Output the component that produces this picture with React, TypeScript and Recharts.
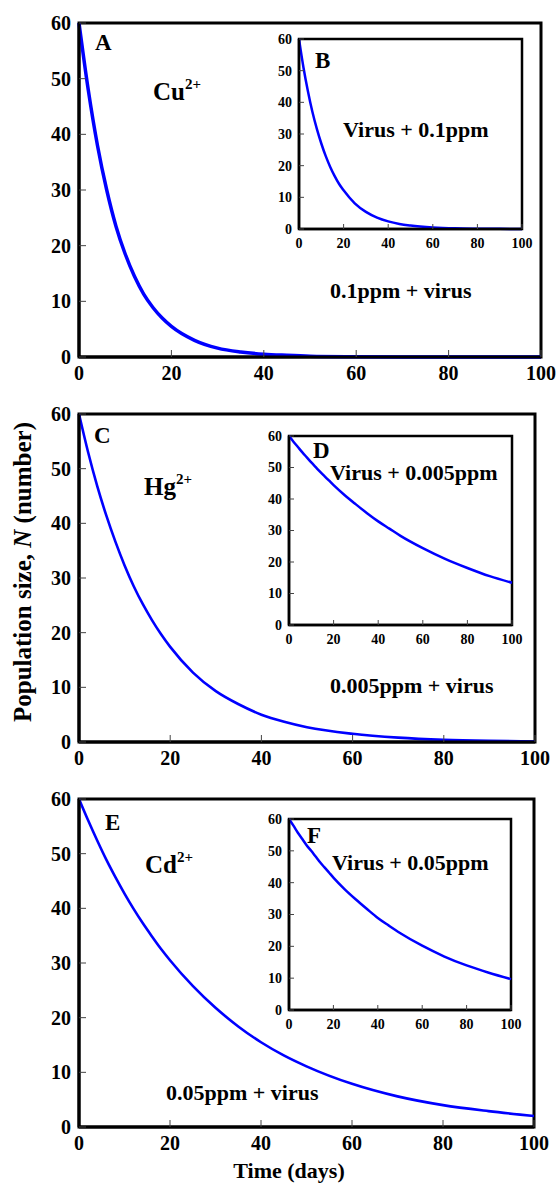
import React from 'react'
import { LineChart, Line, XAxis, YAxis, ReferenceArea } from 'recharts'

// sampling days shared by every curve
const TIME = [0, 2, 4, 6, 8, 10, 12, 14, 16, 18, 20, 25, 30, 35, 40, 45, 50, 60, 70, 80, 90, 100]

// population size N read at each day
const CU_PLUS_VIRUS = [60, 48, 38, 30, 23.5, 18.5, 14.5, 11.3, 8.9, 7, 5.5, 3, 1.6, 0.9, 0.5, 0.3, 0.15, 0.05, 0, 0, 0, 0]
const VIRUS_PLUS_CU = [60, 51, 43.5, 37, 31.6, 27, 23, 19.6, 16.7, 14.2, 12.2, 8.1, 5.4, 3.6, 2.4, 1.6, 1.1, 0.5, 0.2, 0.1, 0.05, 0]
const HG_PLUS_VIRUS = [60, 53, 46.8, 41.4, 36.6, 32.3, 28.5, 25.2, 22.3, 19.7, 17.4, 12.7, 9.3, 6.9, 5, 3.7, 2.7, 1.5, 0.8, 0.4, 0.2, 0.1]
const VIRUS_PLUS_HG = [60, 58.2, 56.5, 54.8, 53.2, 51.6, 50.1, 48.6, 47.2, 45.8, 44.4, 41.2, 38.3, 35.5, 32.9, 30.6, 28.3, 24.4, 21, 18.1, 15.5, 13.4]
const CD_PLUS_VIRUS = [60, 56.1, 52.4, 48.9, 45.7, 42.7, 39.9, 37.3, 34.9, 32.6, 30.5, 25.8, 21.8, 18.4, 15.5, 13.1, 11.1, 7.9, 5.6, 4, 2.9, 2]
const VIRUS_PLUS_CD = [60, 57.9, 55.7, 53.7, 51.7, 50, 48.2, 46.4, 44.8, 43.2, 41.6, 38, 34.8, 31.8, 28.9, 26.5, 24.2, 20.2, 16.8, 14, 11.7, 9.7]

const X_TICKS = [0, 20, 40, 60, 80, 100]
const Y_TICKS = [0, 10, 20, 30, 40, 50, 60]

const FONT = '"Liberation Serif", "Times New Roman", serif'
const BLUE = '#0000ff'

const toRows = (values: number[]) => TIME.map((t, i) => ({ t, n: values[i] }))

interface PanelProps {
  values: number[]
  // plot rectangle in page pixels
  x0: number
  y0: number
  x1: number
  y1: number
  labelWidth: number
  labelHeight: number
  padTop: number
  padRight: number
  fontSize: number
  tick: number
  yGap: number
  xGap: number
  frame: number
  line: number
}

function Panel(p: PanelProps) {
  const left = p.x0 - p.labelWidth
  const top = p.y0 - p.padTop
  const width = p.x1 - left + p.padRight
  const height = p.y1 - top + p.labelHeight
  const tickStyle = { fill: '#000', fontSize: p.fontSize, fontWeight: 700, fontFamily: p.fontSize > 16 ? FONT : FONT }
  const axisLine = { stroke: '#000', strokeWidth: p.frame }
  const tickLine = { stroke: '#444', strokeWidth: 1 }

  return (
    <div style={{ position: 'absolute', left, top, width, height }}>
      <LineChart
        width={width}
        height={height}
        data={toRows(p.values)}
        margin={{ top: p.padTop, right: p.padRight, bottom: 0, left: 0 }}
      >
        <XAxis
          dataKey="t"
          type="number"
          domain={[0, 100]}
          ticks={X_TICKS}
          interval={0}
          height={p.labelHeight}
          tick={tickStyle}
          tickSize={-p.tick}
          tickMargin={p.tick + p.xGap}
          axisLine={axisLine}
          tickLine={tickLine}
        />
        <YAxis
          dataKey="n"
          type="number"
          domain={[0, 60]}
          ticks={Y_TICKS}
          interval={0}
          width={p.labelWidth}
          tick={tickStyle}
          tickSize={-p.tick}
          tickMargin={p.tick + p.yGap}
          axisLine={axisLine}
          tickLine={tickLine}
        />
        {/* box around the plot */}
        <ReferenceArea x1={0} x2={100} y1={0} y2={60} fill="none" stroke="#000" strokeWidth={p.frame} ifOverflow="visible" />
        <Line dataKey="n" type="monotone" stroke={BLUE} strokeWidth={p.line} dot={false} isAnimationActive={false} />
      </LineChart>
    </div>
  )
}

const mainPanel = { labelWidth: 79, labelHeight: 36, padTop: 14, padRight: 20, fontSize: 20, tick: 7, yGap: 8, xGap: 9, frame: 3, line: 3 }
const insetPanel = { labelWidth: 34, labelHeight: 24, padTop: 10, padRight: 16, fontSize: 14, tick: 5, yGap: 7, xGap: 9, frame: 2.5, line: 2.5 }

const textStyle = { fontFamily: FONT, fontWeight: 700, fill: '#000' } as const

function Ion({ x, y, name }: { x: number; y: number; name: string }) {
  return (
    <text x={x} y={y} fontSize={25} style={textStyle}>
      {name}
      <tspan fontSize={15} dy={-11}>2+</tspan>
    </text>
  )
}

export default function App() {
  return (
    <div style={{ position: 'absolute', left: 0, top: 0, width: 557, height: 1184, background: '#fff' }}>
      <Panel values={CU_PLUS_VIRUS} x0={79} y0={23} x1={541} y1={357} {...mainPanel} line={3.5} />
      <Panel values={VIRUS_PLUS_CU} x0={299} y0={39} x1={522} y1={229} {...insetPanel} />

      <Panel values={HG_PLUS_VIRUS} x0={79} y0={414} x1={535} y1={742} {...mainPanel} line={2.6} />
      <Panel values={VIRUS_PLUS_HG} x0={289} y0={436} x1={512} y1={625} {...insetPanel} />

      <Panel values={CD_PLUS_VIRUS} x0={79} y0={799} x1={534} y1={1127} {...mainPanel} line={2.6} />
      <Panel values={VIRUS_PLUS_CD} x0={289} y0={819} x1={511} y1={1010} {...insetPanel} />

      <svg width={557} height={1184} style={{ position: 'absolute', left: 0, top: 0, pointerEvents: 'none' }}>
        <text x={95} y={50} fontSize={23} style={textStyle}>A</text>
        <Ion x={153} y={100} name="Cu" />
        <text x={315} y={68} fontSize={23} style={textStyle}>B</text>
        <text x={343} y={137} fontSize={22} style={textStyle}>Virus + 0.1ppm</text>
        <text x={330} y={298} fontSize={22} style={textStyle}>0.1ppm + virus</text>

        <text x={94} y={443} fontSize={23} style={textStyle}>C</text>
        <Ion x={144} y={495} name="Hg" />
        <text x={313} y={458} fontSize={23} style={textStyle}>D</text>
        <text x={330} y={480} fontSize={22} style={textStyle}>Virus + 0.005ppm</text>
        <text x={330} y={693} fontSize={22} style={textStyle}>0.005ppm + virus</text>

        <text x={105} y={830} fontSize={23} style={textStyle}>E</text>
        <Ion x={145} y={873} name="Cd" />
        <text x={307} y={843} fontSize={23} style={textStyle}>F</text>
        <text x={332} y={870} fontSize={22} style={textStyle}>Virus + 0.05ppm</text>
        <text x={166} y={1100} fontSize={22} style={textStyle}>0.05ppm + virus</text>

        <text x={289} y={1178} fontSize={22} textAnchor="middle" style={textStyle}>Time (days)</text>
        <text x={0} y={0} fontSize={25} textAnchor="middle" transform="translate(31 572) rotate(-90)" style={textStyle}>
          Population size, <tspan fontStyle="italic">N</tspan> (number)
        </text>
      </svg>
    </div>
  )
}
